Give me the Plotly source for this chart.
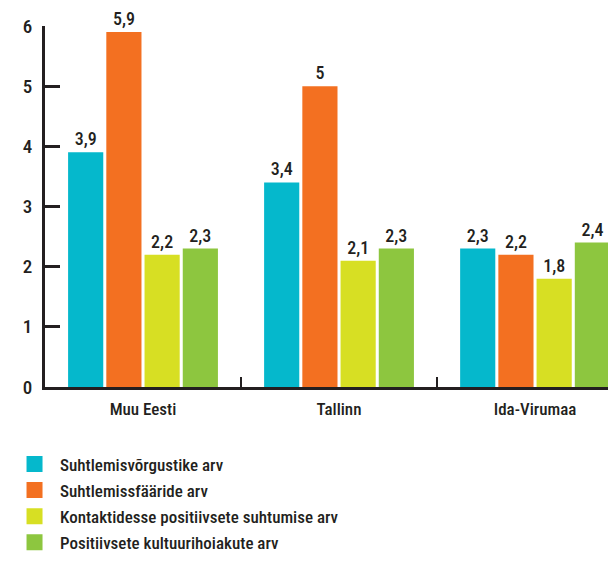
import plotly.graph_objects as go

categories = ["Muu Eesti", "Tallinn", "Ida-Virumaa"]
series_names = [
    "Suhtlemisvõrgustike arv",
    "Suhtlemissfääride arv",
    "Kontaktidesse positiivsete suhtumise arv",
    "Positiivsete kultuurihoiakute arv",
]
values_vorgustik = [3.9, 3.4, 2.3]
values_sfaarid = [5.9, 5.0, 2.2]
values_kontakt = [2.2, 2.1, 1.8]
values_hoiakud = [2.3, 2.3, 2.4]
colors = ["#05b8cc", "#f37021", "#d7df23", "#8dc63f"]
y_ticks = [0, 1, 2, 3, 4, 5, 6]

FONT = "Roboto Condensed"
INK = "#231f20"

fig = go.Figure()
for i, (name, vals, col) in enumerate(zip(series_names,
                           [values_vorgustik, values_sfaarid, values_kontakt, values_hoiakud],
                           colors)):
    fig.add_trace(go.Bar(
        x=categories, y=vals, name=name, marker_color=col, marker_line_width=0,
        texttemplate="%{y}", textposition="outside", cliponaxis=False,
        textfont=dict(family=FONT, size=18, color=INK, weight=500), showlegend=False,
        legendgroup=f"g{i}",
    ))
    fig.add_trace(go.Scatter(
        x=[None], y=[None], mode="markers", name=name, legendgroup=f"g{i}",
        marker=dict(symbol="square", size=16, color=col), showlegend=True,
    ))

fig.update_layout(
    width=608, height=554,
    margin=dict(l=37, r=0, t=18, b=175, autoexpand=False),
    plot_bgcolor="white", paper_bgcolor="white",
    separators=", ",
    barmode="group", bargap=0.22, bargroupgap=0.08,
    font=dict(family=FONT, size=17, color=INK, weight=500),
    legend=dict(x=-0.063, xanchor="left", y=-0.1645, yanchor="top",
                font=dict(family=FONT, size=17, color=INK, weight=500),
                itemwidth=41, tracegroupgap=1, traceorder="grouped"),
)
fig.update_xaxes(
    range=[-0.5, 2.413], showline=True, linecolor=INK, linewidth=3,
    ticks="inside", tickson="boundaries", ticklen=10, tickwidth=2, tickcolor=INK,
    tickfont=dict(family=FONT, size=17, color=INK, weight=500), showgrid=False, zeroline=False,
    automargin=False, ticklabelstandoff=5,
)
fig.update_yaxes(
    range=[0, 6], tickvals=y_ticks, showline=True, linecolor=INK, linewidth=3,
    ticks="inside", ticklen=15, tickwidth=3, tickcolor=INK,
    tickfont=dict(family=FONT, size=19, color=INK, weight=500), showgrid=False, zeroline=False,
    ticklabelstandoff=6, automargin=False,
)
fig.write_html("out.html")
